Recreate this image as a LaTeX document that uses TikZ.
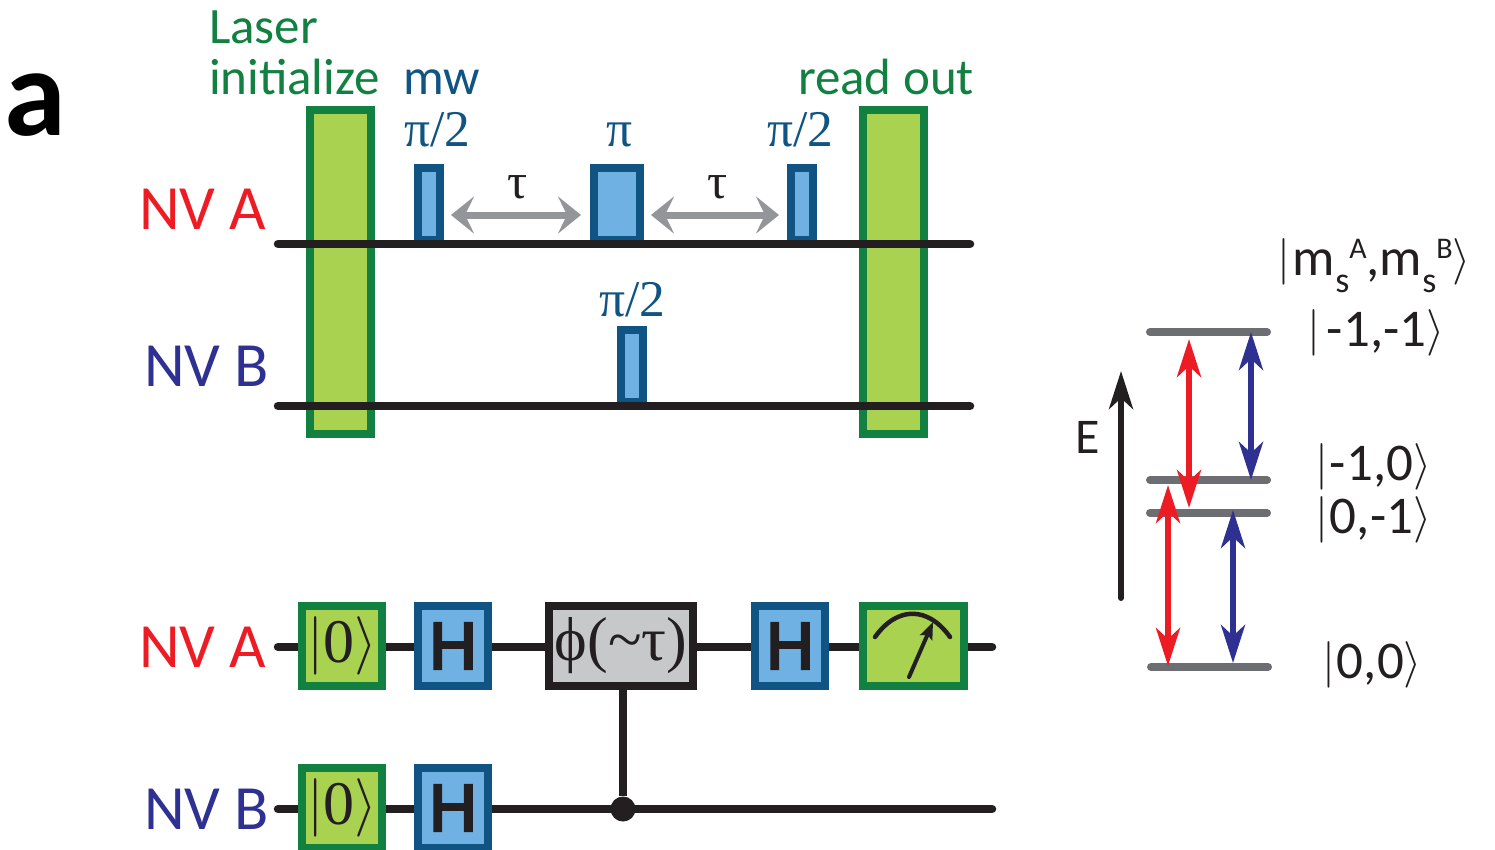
\documentclass[tikz,border=0pt]{standalone}
\usepackage{fontspec}
\usepackage{graphicx}
\setmainfont{Carlito}
\newfontfamily\grk{Liberation Serif}
\newfontfamily\hfont[FakeBold=4]{Liberation Sans}
\usetikzlibrary{arrows.meta}
\definecolor{dgreen}{HTML}{118040}
\definecolor{lgreen}{HTML}{A9D251}
\definecolor{dblue}{HTML}{0F5482}
\definecolor{lblue}{HTML}{6FB1E2}
\definecolor{nvred}{HTML}{ED1C24}
\definecolor{nvblue}{HTML}{2E3192}
\definecolor{wire}{HTML}{231F20}
\definecolor{lvl}{HTML}{6D6E71}
\definecolor{garrow}{HTML}{939598}
\definecolor{gatefill}{HTML}{C7C8CA}
\newcommand\fs[1]{\fontsize{#1}{#1}\selectfont}
\newcommand\kR{\raisebox{1.5pt}{\scalebox{1.87}{$\rangle$}}}
\newcommand\kL{\raisebox{1.5pt}{\scalebox{1.87}{$\vert$}}}
\newcommand\bigkR{\raisebox{2pt}{\scalebox{2.35}{$\rangle$}}}
\newcommand\bigkL{\raisebox{2pt}{\scalebox{2.35}{$\vert$}}}
\tikzset{
 x=1pt,y=-1pt,
 txt/.style={inner sep=0pt,outer sep=0pt,anchor=base west,font=\fs{51}},
 grtxt/.style={txt,text=dgreen},
 bltxt/.style={txt,text=dblue,font=\grk\fs{51.5}},
 nvr/.style={txt,text=nvred,font=\fs{63}},
 nvb/.style={txt,text=nvblue,font=\fs{63}},
 ket/.style={txt,text=wire,font=\fs{53}},
 laserbox/.style={draw=dgreen,fill=lgreen,line width=8pt,minimum width=61pt,minimum height=324pt,inner sep=0pt},
 pulse/.style={draw=dblue,fill=lblue,line width=8pt,minimum width=22pt,minimum height=72pt,inner sep=0pt},
 gatebox/.style={line width=8pt,minimum height=80pt,inner sep=0pt,text=wire},
 ginit/.style={gatebox,draw=dgreen,fill=lgreen,minimum width=80pt,font=\grk\fs{62}},
 gH/.style={gatebox,draw=dblue,fill=lblue,minimum width=70pt,font=\hfont\fs{66}},
 gphi/.style={gatebox,draw=wire,fill=gatefill,minimum width=144pt,font=\grk\fs{62}},
 gmeter/.style={gatebox,draw=dgreen,fill=lgreen,minimum width=101pt},
 wireline/.style={draw=wire,line width=8.5pt,line cap=round},
 levelline/.style={draw=lvl,line width=8pt,line cap=round},
 dbl/.style={line width=6pt,{Stealth[length=38pt,width=24pt,inset=11pt]}-{Stealth[length=38pt,width=24pt,inset=11pt]}},
 tauarrow/.style={draw=garrow,line width=7pt,{Stealth[length=23pt,width=37pt,inset=9pt]}-{Stealth[length=23pt,width=37pt,inset=9pt]}},
 dotnode/.style={circle,fill=wire,minimum size=25pt,inner sep=0pt},
}
\begin{document}
\begin{tikzpicture}
\useasboundingbox (0,0) rectangle (1495,849);
\clip (0,0) rectangle (1495,849);
% panel letter
\node[txt,font=\bfseries\fs{125},text=black] (panel) at (5,135) {a};
% top sequence
\node[laserbox] (las1) at (340.5,272) {};
\node[laserbox] (las2) at (893.5,272) {};
\node[pulse] (p1) at (429,204) {};
\node[pulse,minimum width=46pt] (p2) at (617,204) {};
\node[pulse] (p3) at (802,204) {};
\node[pulse] (p4) at (632,366) {};
\coordinate (aL) at (278,244); \coordinate (aR) at (970,244);
\coordinate (bL) at (278,406); \coordinate (bR) at (970,406);
\draw[wireline] (aL) -- (aR);
\draw[wireline] (bL) -- (bR);
\node[grtxt] (t1) at (209,43) {Laser};
\node[grtxt] (t2) at (209,94) {initialize};
\node[txt,text=dblue] (t3) at (403,94) {mw};
\node[grtxt] (t4) at (798,94) {read out};
\node[bltxt] (t5) at (404,146) {π/2};
\node[bltxt] (t6) at (606,146) {π};
\node[bltxt] (t7) at (767,146) {π/2};
\node[bltxt] (t8) at (599,316) {π/2};
\node[txt,font=\grk\fs{50},text=wire] (tau1) at (507,198) {τ};
\node[txt,font=\grk\fs{50},text=wire] (tau2) at (707,198) {τ};
\coordinate (ta1) at (451,215); \coordinate (ta2) at (581,215);
\coordinate (ta3) at (651,215); \coordinate (ta4) at (779,215);
\draw[tauarrow] (ta1) -- (ta2);
\draw[tauarrow] (ta3) -- (ta4);
\node[nvr] (la) at (139,229) {NV A};
\node[nvb] (lb) at (144,386) {NV B};
% circuit
\coordinate (cAL) at (278,647); \coordinate (cAR) at (992,647);
\coordinate (cBL) at (278,809); \coordinate (cBR) at (992,809);
\draw[wireline] (cAL) -- (cAR);
\draw[wireline] (cBL) -- (cBR);
\node[dotnode] (dot) at (623,809) {};
\node[ginit] (z1) at (342,646) {\bigkL 0\bigkR};
\node[gH] (h1) at (453,646) {H};
\node[gphi] (phi) at (621,646) {ϕ(\textasciitilde τ)};
\node[gH] (h2) at (790,646) {H};
\node[gmeter] (m) at (913.5,646) {};
\node[ginit] (z2) at (342,808) {\bigkL 0\bigkR};
\node[gH] (h3) at (453,808) {H};
\draw[wire,line width=8.5pt] (phi.south -| dot) -- (dot);
\draw[wire,line width=4.5pt,line cap=round] (875,637) .. controls (897,606) and (928,606) .. (950,637);
\coordinate (ndl) at (909,677); \coordinate (ndt) at (933,622);
\draw[wire,line width=4pt,line cap=round,-{Stealth[length=17pt,width=13pt,inset=3pt]}] (ndl) -- (ndt);
\node[nvr] (lc) at (139,667) {NV A};
\node[nvb] (ld) at (144,829) {NV B};
% energy levels
\coordinate (l1a) at (1150,332); \coordinate (l1b) at (1267,332);
\coordinate (l2a) at (1150,480); \coordinate (l2b) at (1267,480);
\coordinate (l3a) at (1150,513); \coordinate (l3b) at (1267,513);
\coordinate (l4a) at (1151,667); \coordinate (l4b) at (1268,667);
\draw[levelline] (l1a) -- (l1b);
\draw[levelline] (l2a) -- (l2b);
\draw[levelline] (l3a) -- (l3b);
\draw[levelline] (l4a) -- (l4b);
\coordinate (r1t) at (1189,339); \coordinate (r1b) at (1189,508);
\coordinate (u1t) at (1251,332); \coordinate (u1b) at (1251,480);
\coordinate (r2t) at (1168,485); \coordinate (r2b) at (1168,666);
\coordinate (u2t) at (1233,510); \coordinate (u2b) at (1233,663);
\draw[dbl,draw=nvred,color=nvred] (r1t) -- (r1b);
\draw[dbl,draw=nvblue,color=nvblue] (u1t) -- (u1b);
\draw[dbl,draw=nvred,color=nvred] (r2t) -- (r2b);
\draw[dbl,draw=nvblue,color=nvblue] (u2t) -- (u2b);
\coordinate (eb) at (1121,598); \coordinate (et) at (1121,371);
\draw[wire,line width=6pt,line cap=round,-{Stealth[length=38pt,width=24pt,inset=11pt]}] (eb) -- (et);
\node[ket,font=\fs{50}] (E) at (1075,453) {E};
\node[ket] (k0) at (1277,275) {\kL\hspace{3pt}m\raisebox{-17pt}{\fs{36}s}\raisebox{17pt}{\fs{30}A},m\raisebox{-17pt}{\fs{36}s}\raisebox{17pt}{\fs{30}B}\kR};
\node[ket] (k1) at (1307,346) {\kL\hspace{7pt}-1,-1\kR};
\node[ket] (k2) at (1315,480) {\kL\hspace{2pt}-1,0\kR};
\node[ket] (k3) at (1315,533) {\kL\hspace{2pt}0,-1\kR};
\node[ket] (k4) at (1322,678) {\kL\hspace{2pt}0,0\kR};
\end{tikzpicture}
\end{document}
